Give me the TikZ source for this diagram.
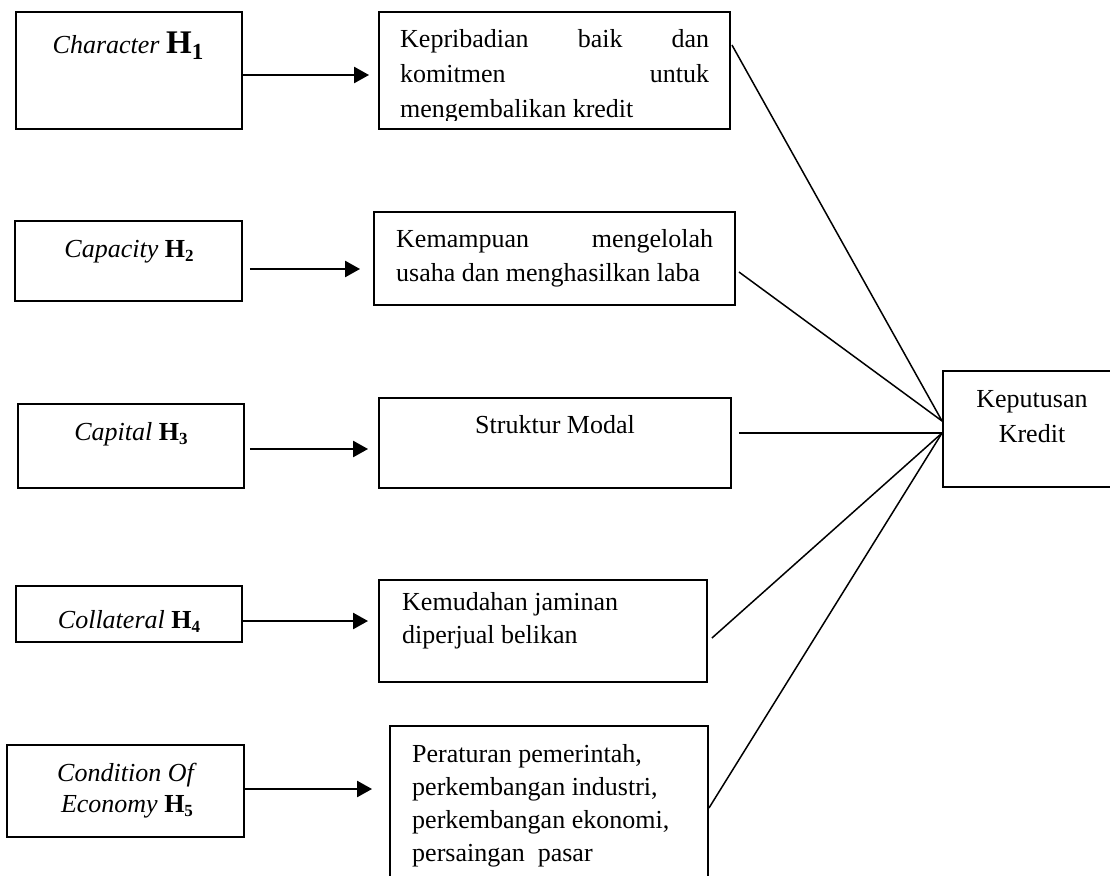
\documentclass[tikz,border=0pt]{standalone}
\usepackage{fontspec}
\setmainfont{Liberation Serif}
\usetikzlibrary{arrows.meta,fit}

% hypothesis label: bold H with a lowered bold index
\newcommand\hyp[2][17]{\textbf{H}\raisebox{-0.16em}{\fontsize{#1}{#1}\selectfont\textbf{#2}}}

\begin{document}
\begin{tikzpicture}[x=1pt,y=-1pt,
  box/.style={draw, line width=1.9pt, inner sep=0pt},
  lbl/.style={inner sep=0pt, font=\fontsize{26}{35}\selectfont},
  arr/.style={line width=2.5pt, -{Triangle[length=15pt,width=16pt]}},
  link/.style={line width=1.5pt}]

\useasboundingbox (0,0) rectangle (1110,875);
\clip (0,0) rectangle (1110,875);
\fill[white] (0,0) rectangle (1110,875);

% variable boxes (left column)
\node[box, fit={(16,12)(242,129)}] (a1) {};
\node[box, fit={(15,221)(242,301)}] (a2) {};
\node[box, fit={(18,404)(244,488)}] (a3) {};
\node[box, fit={(16,586)(242,642)}] (a4) {};
\node[box, fit={(7,745)(244,837)}] (a5) {};

% indicator boxes (middle column)
\node[box, fit={(379,12)(730,129)}] (b1) {};
\node[box, fit={(374,212)(735,305)}] (b2) {};
\node[box, fit={(379,398)(731,488)}] (b3) {};
\node[box, fit={(379,580)(707,682)}] (b4) {};
\node[box, fit={(390,726)(708,900)}] (b5) {};

% outcome box
\node[box, fit={(943,371)(1125,487)}] (k) {};

% left column labels
\node[lbl, anchor=base] (a1t) at (128,54) {\textit{Character} {\fontsize{33}{35}\selectfont\hyp[23]{1}}};
\node[lbl, anchor=base] (a2t) at (129,257) {\textit{Capacity} \hyp{2}};
\node[lbl, anchor=base] (a3t) at (131,440) {\textit{Capital} \hyp{3}};
\node[lbl, anchor=base] (a4t) at (129,628) {\textit{Collateral} \hyp{4}};
\node[lbl, anchor=base] (a5t) at (127,781) {\vtop{\baselineskip=31pt
  \hbox to 0pt{\hss\textit{Condition Of}\hss}
  \hbox to 0pt{\hss\textit{Economy} \hyp{5}\hss}}};

% middle column texts
\begin{scope}
  \clip (379,12) rectangle (730,120);
  \node[lbl, anchor=base west] (b1t) at (400,48) {\vtop{\baselineskip=35pt
    \hbox to 309pt{Kepribadian\hfill baik\hfill dan}
    \hbox to 309pt{komitmen\hfill untuk}
    \hbox{mengembalikan kredit}}};
\end{scope}
\node[lbl, anchor=base west] (b2t) at (396,247) {\vtop{\baselineskip=34pt
  \hbox to 317pt{Kemampuan\hfill mengelolah}
  \hbox{usaha dan menghasilkan laba}}};
\node[lbl, anchor=base] (b3t) at (555,433) {Struktur Modal};
\node[lbl, anchor=base west] (b4t) at (402,610) {\vtop{\baselineskip=33pt
  \hbox{Kemudahan jaminan}
  \hbox{diperjual belikan}}};
\node[lbl, anchor=base west] (b5t) at (412,762) {\vtop{\baselineskip=33pt
  \hbox{Peraturan pemerintah,}
  \hbox{perkembangan industri,}
  \hbox{perkembangan ekonomi,}
  \hbox{persaingan\ \ pasar}}};

% outcome text
\node[lbl, anchor=base] (kt) at (1032,407) {\vtop{\baselineskip=35pt
  \hbox to 0pt{\hss Keputusan\hss}
  \hbox to 0pt{\hss Kredit\hss}}};

% arrows from variables to indicators
\draw[arr] ([shift={(0,4.5)}]a1.east) -- ([shift={(-9,4.5)}]b1.west);
\draw[arr] ([shift={(7,8)}]a2.east) -- ([shift={(-13,10.5)}]b2.west);
\draw[arr] ([shift={(5,3)}]a3.east) -- ([shift={(-10,6)}]b3.west);
\draw[arr] ([shift={(0,7)}]a4.east) -- ([shift={(-10,-10)}]b4.west);
\draw[arr] ([shift={(0,-2)}]a5.east) -- ([shift={(-17,-24)}]b5.west);

% links from indicators to the decision
\draw[link] ([shift={(1,-25.5)}]b1.east) -- ([shift={(0,-8)}]k.west);
\draw[link] ([shift={(3,13.5)}]b2.east) -- ([shift={(0,-8)}]k.west);
\draw[link] ([shift={(7,-10)}]b3.east) -- ([shift={(0,4)}]k.west);
\draw[link] ([shift={(4,7)}]b4.east) -- ([shift={(0,4)}]k.west);
\draw[link] ([shift={(0,-5)}]b5.east) -- ([shift={(0,4)}]k.west);
\end{tikzpicture}
\end{document}
